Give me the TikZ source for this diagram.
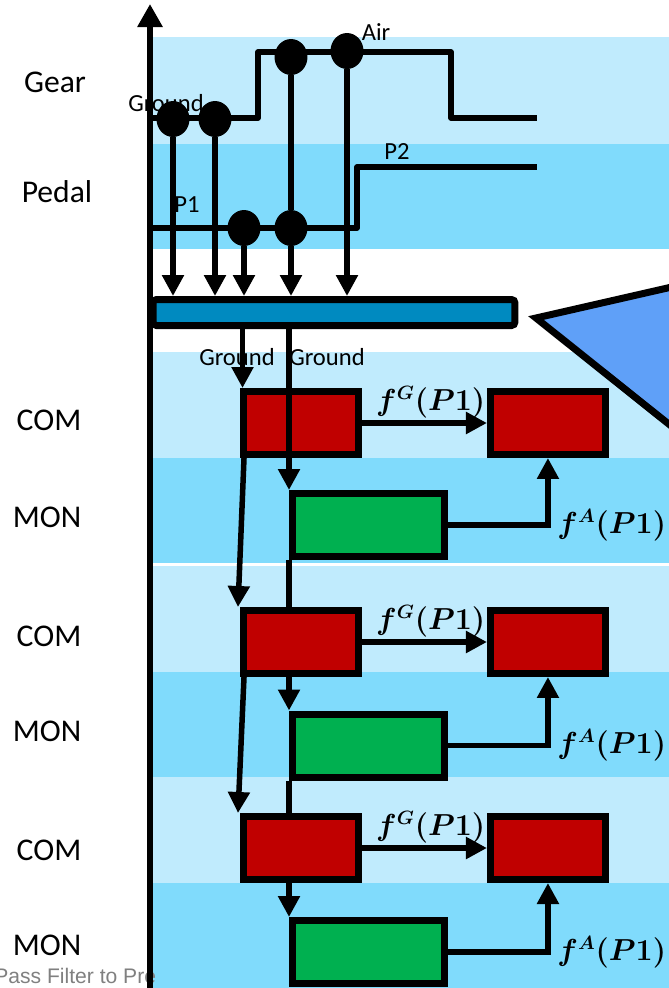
\documentclass[tikz,border=0pt]{standalone}
\usepackage{fontspec}
\setmainfont{Carlito}
\newfontfamily\footfont{Liberation Sans}
\usetikzlibrary{positioning,calc,shapes.geometric,arrows.meta}
\definecolor{bandlight}{HTML}{C0EBFD}
\definecolor{banddark}{HTML}{80DBFC}
\definecolor{comred}{HTML}{C00000}
\definecolor{mongreen}{HTML}{00B050}
\definecolor{barblue}{HTML}{008AC0}
\definecolor{wedgeblue}{HTML}{5FA0F8}

\begin{document}
\begin{tikzpicture}[x=0.02cm, y=-0.02cm,
    comp/.style={draw=black, line width=0.14cm, fill=comred, minimum width=2.3cm, minimum height=1.26cm, inner sep=0pt},
    mon/.style={comp, fill=mongreen, minimum width=3.04cm},
    knot/.style={ellipse, fill=black, minimum width=0.66cm, minimum height=0.72cm, inner sep=0pt},
    sig/.style={line width=0.11cm, line join=round},
    arrow/.style={-{Triangle[length=0.42cm, width=0.42cm]}, line width=0.11cm},
    lbl/.style={font=\fontsize{18}{20}\selectfont, inner sep=0pt},
    tag/.style={font=\fontsize{14}{16}\selectfont, inner sep=0pt},
    flbl/.style={font=\fontsize{16}{18}\selectfont\boldmath, inner sep=1pt}
  ]
    \path[use as bounding box] (0,0) rectangle (669,988);
    \clip (0,0) rectangle (669,988);

    % lanes
    \fill[bandlight] (152,37) rectangle (669,144);
    \fill[banddark] (152,144) rectangle (669,249);
    \foreach \t/\b in {352/458, 566/672, 777/883} \fill[bandlight] (152,\t) rectangle (669,\b);
    \foreach \t/\b in {458/563, 672/777, 883/990} \fill[banddark] (152,\t) rectangle (669,\b);

    \node[anchor=west, font=\footfont\fontsize{12}{14}\selectfont, text=gray, inner sep=0pt] (foot) at (-6,976) {Pass Filter to Pre};

    \node[lbl] (gear) at (55,82) {Gear};
    \node[lbl] (pedal) at (57,192) {Pedal};
    \node[lbl] (com1) at (49,420) {COM};
    \node[lbl] (mon1lbl) at (47,517) {MON};
    \node[lbl] (com2) at (49,636) {COM};
    \node[lbl] (mon2lbl) at (47,731) {MON};
    \node[lbl] (com3) at (49,850) {COM};
    \node[lbl] (mon3lbl) at (47,945) {MON};

    % signals
    \node[tag] (ground) at (166,103) {Ground};
    \node[tag] (air) at (376,32) {Air};
    \node[tag] (p1lbl) at (187,205) {P1};
    \node[tag] (p2lbl) at (397,152) {P2};
    \draw[sig] (152,118) -- (258,118) -- (258,52) -- (451,52) -- (451,118) -- (537,118);
    \draw[sig] (152,228) -- (357,228) -- (357,167) -- (537,167);

    \node[knot] (g1) at (173,119) {};
    \node[knot] (g2) at (215,119) {};
    \node[knot] (g3) at (291,57) {};
    \node[knot] (g4) at (347,51) {};
    \node[knot] (p1) at (244,228) {};
    \node[knot] (p2) at (291,228) {};

    \node[draw, line width=0.14cm, fill=barblue, minimum width=7.24cm, minimum height=0.52cm, inner sep=0pt, rounded corners=2pt] (bar) at (334,312.5) {};
    \draw[sig] (g3) -- (p2);
    \foreach \d in {g1,g2,p1,p2,g4} \draw[arrow] (\d) -- (\d |- bar.north);

    \filldraw[fill=wedgeblue, line width=0.14cm, line join=miter] (536,318) -- (720,276) -- (720,465) -- cycle;

    \node[tag] (gnd1) at (237,357) {Ground};
    \node[tag] (gnd2) at (327,357) {Ground};

    % COM / MON rows
    \foreach \i/\yc/\ym in {1/423/525, 2/642/745.5, 3/848/952} {
      \node[comp] (comL\i) at (301,\yc) {};
      \node[comp, right=2.5cm of comL\i] (comR\i) {};
      \node[mon] (mon\i) at (368.5,\ym) {};
      \draw[arrow] (comL\i) -- node[flbl, above, pos=0.55] {$f^{G}(P1)$} (comR\i);
      \draw[arrow] (mon\i) -| node[flbl, right, pos=0.5, xshift=0.1cm] {$f^{A}(P1)$} (comR\i);
    }

    \draw[arrow] ([xshift=0.05cm]comL1.north west |- bar.south) -- ([xshift=0.05cm]comL1.north west);
    \draw[arrow] (mon1.north west |- bar.south) -- (mon1.north west);
    \draw[arrow] ([xshift=0.08cm]comL1.south west) -- ([xshift=-0.04cm]comL2.north west);
    \draw[sig] (mon1.south west) -- (mon1.south west |- comL2.north);
    \draw[arrow] (mon2.north west |- comL2.south) -- (mon2.north west);
    \draw[arrow] ([xshift=0.08cm]comL2.south west) -- ([xshift=-0.04cm]comL3.north west);
    \draw[sig] (mon2.south west) -- (mon2.south west |- comL3.north);
    \draw[arrow] (mon3.north west |- comL3.south) -- (mon3.north west);

    % axis
    \coordinate (axbot) at (150,995);
    \coordinate (axtop) at (150,4);
    \draw[line width=0.12cm, -{Triangle[length=0.46cm, width=0.48cm]}] (axbot) -- (axtop);
  \end{tikzpicture}
\end{document}
